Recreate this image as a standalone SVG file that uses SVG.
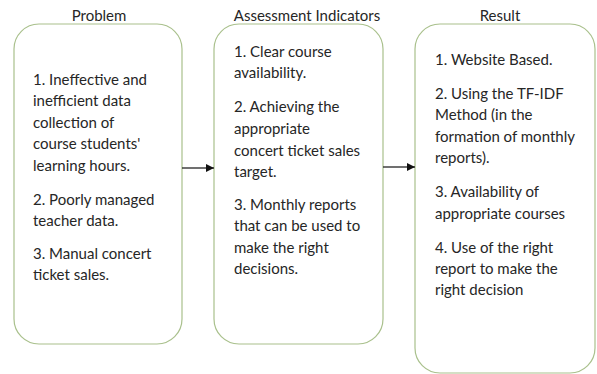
<svg xmlns="http://www.w3.org/2000/svg" width="597" height="374" viewBox="0 0 597 374">
<style>
.box{fill:#ffffff;stroke:#a9c08c;stroke-width:1.2}
.t{font-family:Lato,"Liberation Sans",sans-serif;font-size:15px;fill:#262626}
.h{font-family:Lato,"Liberation Sans",sans-serif;font-size:15px;fill:#262626;text-anchor:middle}
.c{stroke:#222;stroke-width:1.3;fill:none}
</style>
<defs>
<marker id="ah" viewBox="0 0 10 10" refX="10" refY="5" markerWidth="8" markerHeight="8" markerUnits="userSpaceOnUse" orient="auto">
<path d="M0,0 L10,5 L0,10 z" fill="#111"/>
</marker>
</defs>
<rect width="597" height="374" fill="#ffffff"/>
<g id="problem">
<text class="h" x="99" y="21">Problem</text>
<rect class="box" x="14" y="24" width="168" height="320" rx="25" ry="25"/>
<text class="t" x="33" y="85">1. Ineffective and</text>
<text class="t" x="33" y="106">inefficient data</text>
<text class="t" x="33" y="128">collection of</text>
<text class="t" x="33" y="149">course students'</text>
<text class="t" x="33" y="171">learning hours.</text>
<text class="t" x="33" y="205">2. Poorly managed</text>
<text class="t" x="33" y="226">teacher data.</text>
<text class="t" x="33" y="259">3. Manual concert</text>
<text class="t" x="33" y="280">ticket sales.</text>
</g>
<g id="assessment">
<text class="h" x="307" y="21">Assessment Indicators</text>
<rect class="box" x="214" y="24" width="169" height="320" rx="25" ry="25"/>
<text class="t" x="234" y="57">1. Clear course</text>
<text class="t" x="234" y="78">availability.</text>
<text class="t" x="234" y="112">2. Achieving the</text>
<text class="t" x="234" y="134">appropriate</text>
<text class="t" x="234" y="156">concert ticket sales</text>
<text class="t" x="234" y="177">target.</text>
<text class="t" x="234" y="210">3. Monthly reports</text>
<text class="t" x="234" y="231">that can be used to</text>
<text class="t" x="234" y="253">make the right</text>
<text class="t" x="234" y="274">decisions.</text>
</g>
<g id="result">
<text class="h" x="500" y="21">Result</text>
<rect class="box" x="415" y="24" width="180" height="349" rx="25" ry="25"/>
<text class="t" x="435" y="65">1. Website Based.</text>
<text class="t" x="435" y="99">2. Using the TF-IDF</text>
<text class="t" x="435" y="120">Method (in the</text>
<text class="t" x="435" y="142">formation of monthly</text>
<text class="t" x="435" y="163">reports).</text>
<text class="t" x="435" y="197">3. Availability of</text>
<text class="t" x="435" y="219">appropriate courses</text>
<text class="t" x="435" y="253">4. Use of the right</text>
<text class="t" x="435" y="274">report to make the</text>
<text class="t" x="435" y="295">right decision</text>
</g>
<g id="connectors">
<line class="c" x1="182" y1="168" x2="214" y2="168" marker-end="url(#ah)"/>
<line class="c" x1="383" y1="167" x2="415" y2="167" marker-end="url(#ah)"/>
</g>
</svg>
